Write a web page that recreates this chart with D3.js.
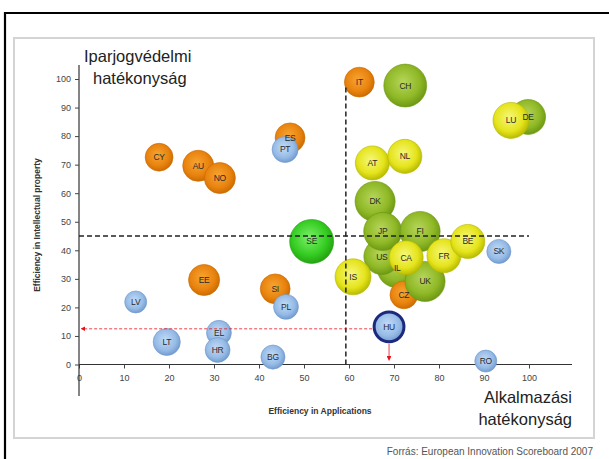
<!DOCTYPE html>
<html><head><meta charset="utf-8">
<script src="https://cdn.jsdelivr.net/npm/d3@7"></script>
<style>
html,body{margin:0;padding:0;background:#fff;}
svg{display:block;font-family:"Liberation Sans",Arial,sans-serif;}
</style></head>
<body>
<svg id="c" width="609" height="459"></svg>
<script>
// ---- data ----
const countries = ["DE","LU","CH","IT","ES","PT","CY","AU","NO","AT","NL","DK","SE","IL","US","JP","FI","CZ","UK","CA","FR","BE","SK","IS","HU","EE","SI","PL","LV","LT","EL","HR","BG","RO"];
const appEff    = [99.8,96.0,72.5,62.3,46.9,45.8,17.8,26.5,31.3,65.2,72.4,65.8,51.7,70.7,67.3,67.5,75.8,72.2,76.9,72.7,81.1,86.4,93.3,60.9,68.9,27.8,43.6,46.0,12.6,19.5,31.1,30.8,43.1,90.4];
const ipEff     = [86.7,85.5,97.7,98.9,79.4,75.3,72.6,69.6,65.3,70.6,72.9,57.1,43.1,33.9,37.8,46.6,46.6,24.4,29.1,37.4,38.1,43.1,39.6,30.7,13.2,29.6,26.5,20.2,21.9,7.9,11.1,5.1,2.6,1.2];
const bubbleSize= [63,67,95,46,46,35,40,50,50,60,60,83,100,83,67,75,83,40,83,60,60,60,30,67,46,50,46,32,25,38,32,32,30,25];
const group     = ["green","yellow","green","orange","orange","blue","orange","orange","orange","yellow","yellow","green","lime","green","green","green","green","orange","green","yellow","yellow","yellow","blue","yellow","hu","orange","orange","blue","blue","blue","blue","blue","blue","blue"];
const xTicks = [0,10,20,30,40,50,60,70,80,90,100];
const yTicks = [0,10,20,30,40,50,60,70,80,90,100];
const thresholdApp = 59.3;
const thresholdIP = 45;
const huIP = 12.5;
const yTitle = "Efficiency in Intellectual property";
const xTitle = "Efficiency in Applications";
const bigY = ["Iparjogvédelmi","hatékonyság"];
const bigX = ["Alkalmazási","hatékonyság"];
const source = "Forrás: European Innovation Scoreboard 2007";

// ---- drawing ----
const svg = d3.select("#c");
const x = d3.scaleLinear().domain([0,100]).range([79,529]);
const y = d3.scaleLinear().domain([0,100]).range([364.5,79]);
const r = d3.scaleSqrt().domain([0,100]).range([0,22]);

const palette = {
  orange:{c:"#f7a531",m:"#e9830f",e:"#c96a00"},
  yellow:{c:"#f6f77a",m:"#e5e41c",e:"#b5b800"},
  green: {c:"#b6d65a",m:"#8fb826",e:"#6a9612"},
  lime:  {c:"#7cf06a",m:"#35cc22",e:"#22a010"},
  blue:  {c:"#c2dbf6",m:"#96bbe6",e:"#6f98cc"},
  hu:    {c:"#c2dbf6",m:"#96bbe6",e:"#6f98cc"}
};
const defs = svg.append("defs");
Object.entries(palette).forEach(([k,p])=>{
  const g = defs.append("radialGradient").attr("id","g-"+k).attr("cx","45%").attr("cy","42%").attr("r","60%");
  g.append("stop").attr("offset","0%").attr("stop-color",p.c);
  g.append("stop").attr("offset","65%").attr("stop-color",p.m);
  g.append("stop").attr("offset","100%").attr("stop-color",p.e);
});
const mk = defs.append("marker").attr("id","arrR").attr("viewBox","0 0 10 10").attr("refX",5).attr("refY",5)
  .attr("markerWidth",6).attr("markerHeight",6).attr("orient","auto");
mk.append("path").attr("d","M0,0L10,5L0,10Z").attr("fill","#e8101a");

// frames
svg.append("path").attr("d","M5,470V13H609").attr("fill","none").attr("stroke","#000").attr("stroke-width",2.2);
svg.append("rect").attr("x",14).attr("y",38).attr("width",580).attr("height",400)
  .attr("fill","none").attr("stroke","#d4d4d4").attr("stroke-width",2);

// axes
const gx = svg.append("g").attr("transform",`translate(0,${y(0)})`)
  .call(d3.axisBottom(x).tickValues(xTicks).tickSize(4).tickPadding(6));
gx.select(".domain").attr("d",`M${x(0)},0H572`);
const gy = svg.append("g").attr("transform",`translate(${x(0)},0)`)
  .call(d3.axisLeft(y).tickValues(yTicks).tickSize(4).tickPadding(4));
gy.select(".domain").attr("d",`M0,65V396`);
[gx,gy].forEach(g=>{
  g.select(".domain").attr("stroke","#333").attr("stroke-width",1.2);
  g.selectAll(".tick line").attr("stroke","#444");
  g.selectAll(".tick text").attr("fill","#444").attr("font-size",9).attr("font-family","Liberation Sans, Arial, sans-serif");
});

// axis titles
svg.append("text").attr("x",320).attr("y",414).attr("text-anchor","middle")
  .attr("font-size",8.5).attr("font-weight","bold").attr("fill","#333").text(xTitle);
svg.append("text").attr("transform","translate(40,225) rotate(-90)").attr("text-anchor","middle")
  .attr("font-size",8.5).attr("font-weight","bold").attr("fill","#333").text(yTitle);

// bubbles
const data = countries.map((c,i)=>({c,x:appEff[i],y:ipEff[i],s:bubbleSize[i],g:group[i]}));
svg.append("g").selectAll("circle").data(data).join("circle")
  .attr("cx",d=>x(d.x)).attr("cy",d=>y(d.y)).attr("r",d=>r(d.s))
  .attr("fill",d=>`url(#g-${d.g})`)
  .attr("stroke",d=>d.g==="hu"?"#1c2a7e":palette[d.g].e)
  .attr("stroke-width",d=>d.g==="hu"?3:1)
  .attr("stroke-opacity",d=>d.g==="hu"?1:0.6);

// dashed threshold lines
svg.append("line").attr("x1",x(0)).attr("x2",x(100)).attr("y1",y(thresholdIP)).attr("y2",y(thresholdIP))
  .attr("stroke","#222").attr("stroke-width",1.5).attr("stroke-dasharray","5,3");
svg.append("line").attr("x1",x(thresholdApp)).attr("x2",x(thresholdApp)).attr("y1",y(97)).attr("y2",y(0))
  .attr("stroke","#222").attr("stroke-width",1.5).attr("stroke-dasharray","5,3");

// labels on top
svg.append("g").selectAll("text").data(data).join("text")
  .attr("x",d=>x(d.x)).attr("y",d=>y(d.y))
  .attr("text-anchor","middle").attr("dy","0.35em")
  .attr("font-size",8.5).attr("fill","#2a2a2a").attr("letter-spacing",-0.3).text(d=>d.c);

// HU reference arrows
const hu = data.find(d=>d.c==="HU");
svg.append("line").attr("x1",x(hu.x)-r(hu.s)-2).attr("x2",x(0)+4).attr("y1",y(huIP)).attr("y2",y(huIP))
  .attr("stroke","#e8101a").attr("stroke-width",0.8).attr("stroke-dasharray","3,2").attr("marker-end","url(#arrR)");
svg.append("line").attr("x1",x(hu.x)).attr("x2",x(hu.x)).attr("y1",y(hu.y)+r(hu.s)+2).attr("y2",y(0)-6)
  .attr("stroke","#e8101a").attr("stroke-width",0.8).attr("marker-end","url(#arrR)");

// big labels
svg.append("text").attr("x",84).attr("y",62).attr("font-size",16.5).attr("fill","#222").text(bigY[0]);
svg.append("text").attr("x",93).attr("y",84).attr("font-size",16.5).attr("fill","#222").text(bigY[1]);
svg.append("text").attr("x",572).attr("y",403).attr("text-anchor","end").attr("font-size",16.5).attr("fill","#222").text(bigX[0]);
svg.append("text").attr("x",572).attr("y",425).attr("text-anchor","end").attr("font-size",16.5).attr("fill","#222").text(bigX[1]);

// source
svg.append("text").attr("x",593).attr("y",455).attr("text-anchor","end").attr("font-size",10).attr("fill","#555").text(source);
</script>
</body></html>
